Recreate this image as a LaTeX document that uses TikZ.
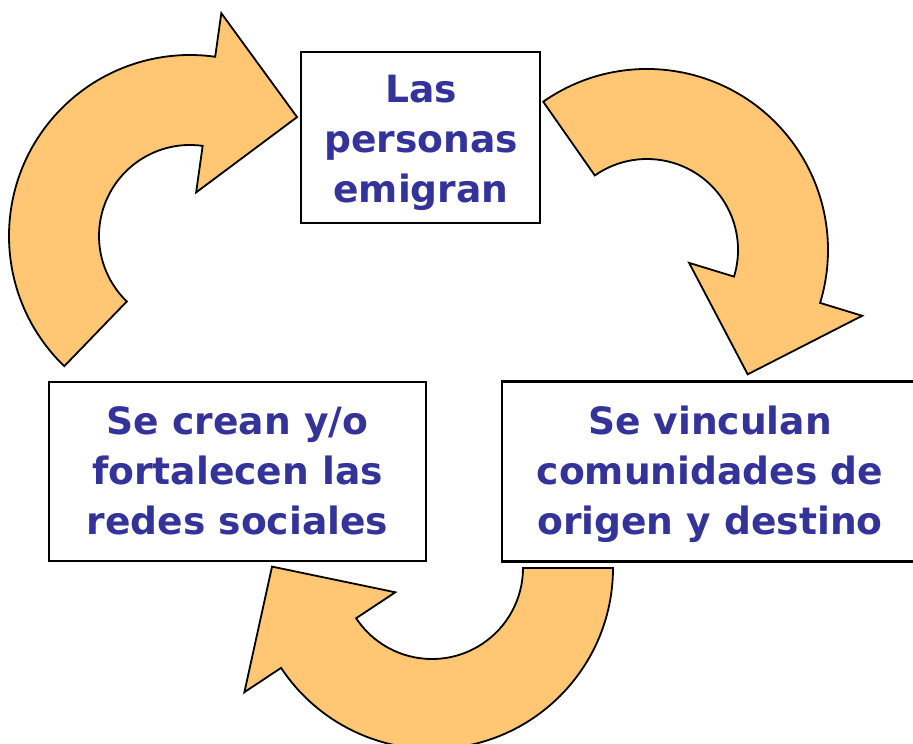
\documentclass[tikz,border=0pt]{standalone}
\usepackage{fontspec}
\setmainfont{DejaVu Sans}
\usetikzlibrary{calc}
\definecolor{txtblue}{HTML}{333399}
\definecolor{arrowfill}{HTML}{FFC674}
\tikzset{
  boxstyle/.style={draw=black, line width=1.6pt, fill=white, inner sep=0pt},
  labeltext/.style={text=txtblue, font=\fontsize{28.2pt}{37.5pt}\selectfont\bfseries, align=center, inner sep=0pt},
  arrowstyle/.style={draw=black, line width=1.35pt, fill=arrowfill, line join=miter},
}
% #1,#2 centre, #3 tail angle, #4 shoulder angle (clockwise)
\newcommand\cyclearrow[4]{%
  \begin{scope}[shift={(#1,#2)}]
    \draw[arrowstyle] (#3:181) arc[start angle=#3, end angle=#4, radius=181]
      -- (#4:225) -- ({#4-34}:160) -- (#4:44) -- (#4:91)
      arc[start angle=#4, end angle=#3, radius=91] -- cycle;
  \end{scope}}
\begin{document}
\begin{tikzpicture}[x=0.75pt, y=0.75pt]
  \useasboundingbox (0,0) rectangle (913,743);
  \clip (0,0) rectangle (913,743);
  \fill[white] (0,0) rectangle (913,743);
  % boxes
  \node[boxstyle, minimum width={239*0.75pt}, minimum height={171*0.75pt}] (topbox) at (420.5,605.5) {};
  \node[boxstyle, minimum width={377*0.75pt}, minimum height={179*0.75pt}] (leftbox) at (237.5,271.5) {};
  \node[boxstyle, minimum width={416*0.75pt}, minimum height={180*0.75pt}] (rightbox) at (710,271.5) {};
  % texts
  \node[labeltext] (toptext) at ($(topbox.center)+(0.5,-5)$) {Las\\personas\\emigran};
  \node[labeltext] (lefttext) at ($(leftbox.center)+(0,1)$) {Se crean y/o\\fortalecen las\\redes sociales};
  \node[labeltext] (righttext) at ($(rightbox.center)+(0,-3)$) {Se vinculan\\comunidades de\\origen y destino};
  % curved arrows
  \cyclearrow{190}{507}{226}{82}
  \cyclearrow{647}{493}{125}{-17}
  \cyclearrow{432}{175}{0}{-146.5}
\end{tikzpicture}
\end{document}
